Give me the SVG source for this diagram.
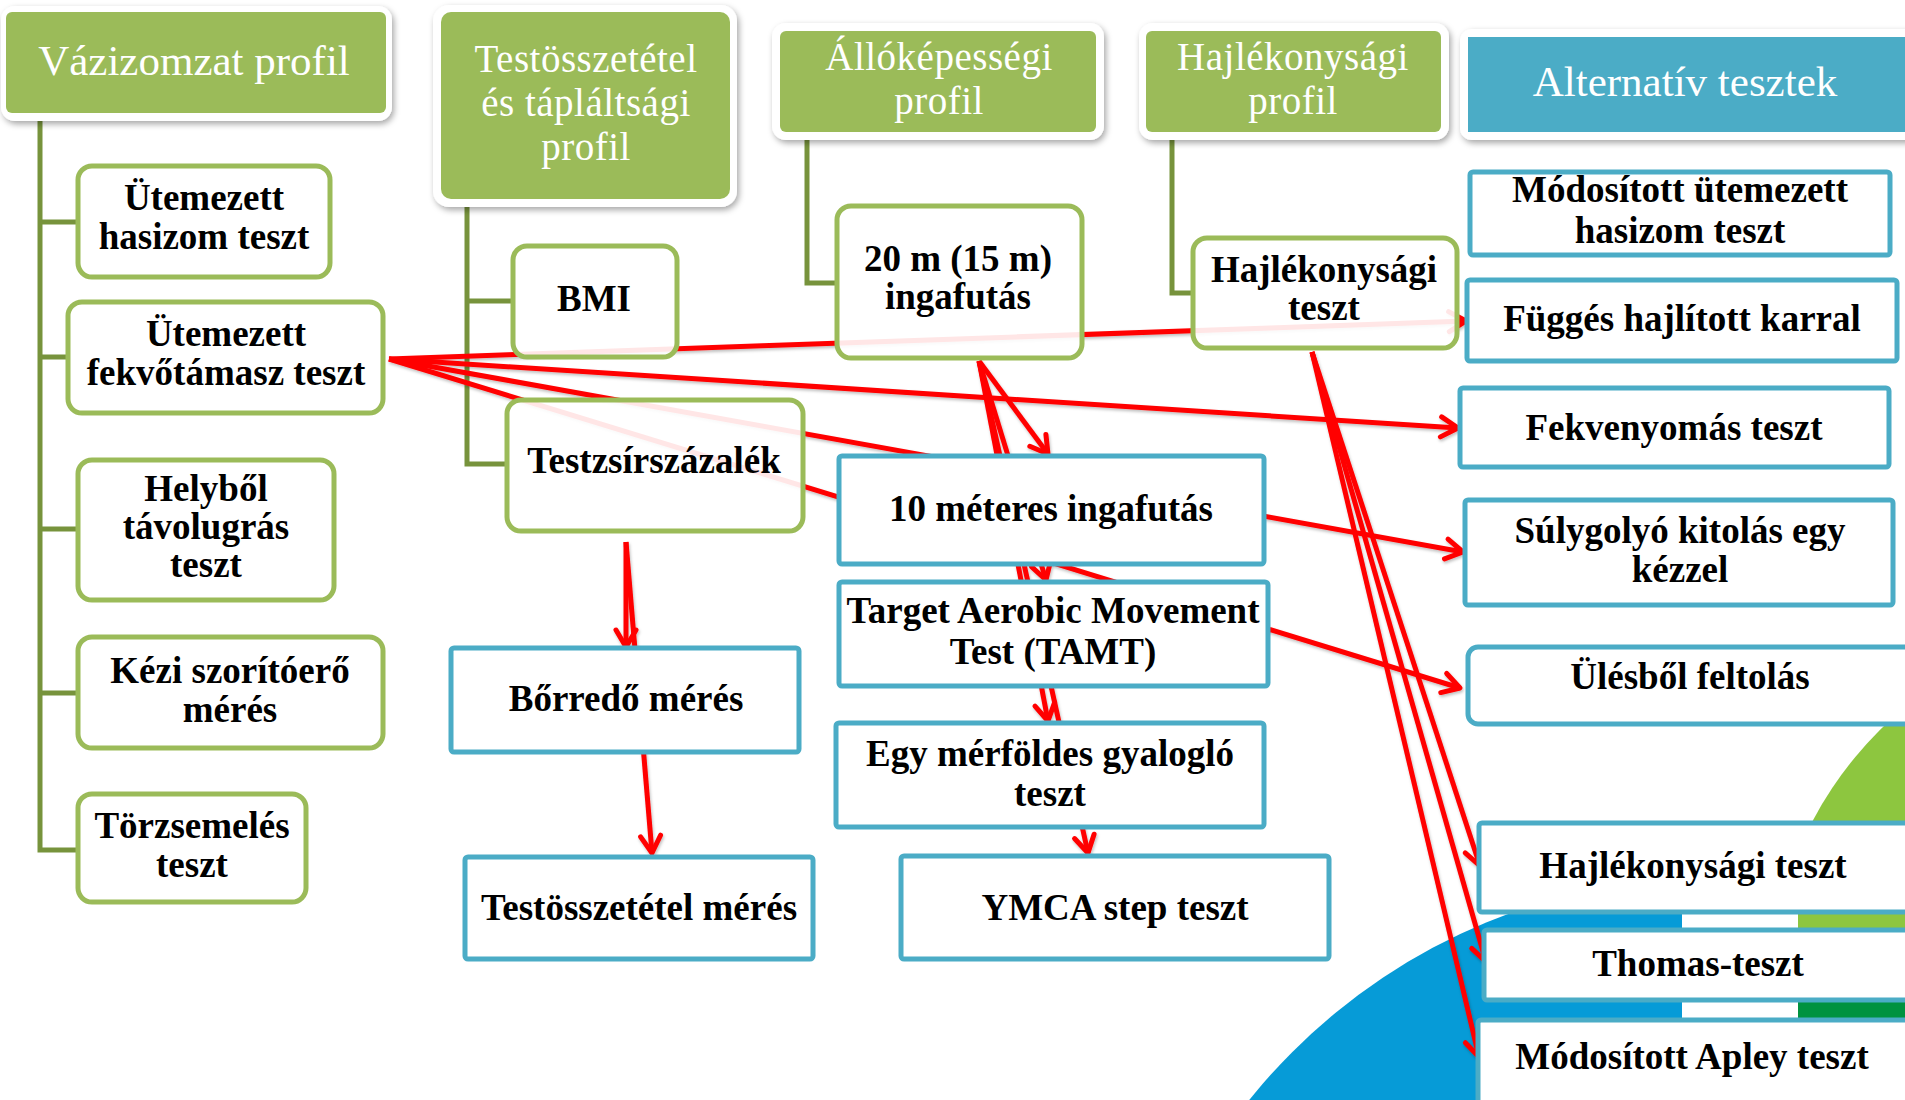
<svg xmlns="http://www.w3.org/2000/svg" width="1905" height="1100" viewBox="0 0 1905 1100">
<defs>
<style>
.hdr{font-family:"Liberation Serif","DejaVu Serif",serif;font-size:39px;fill:#FFFFFF;text-anchor:middle;letter-spacing:0.5px}
.hdr1{font-family:"Liberation Serif","DejaVu Serif",serif;font-size:43px;fill:#FFFFFF;text-anchor:middle}
.txt{font-family:"Liberation Serif","DejaVu Serif",serif;font-size:37px;font-weight:bold;fill:#000000;text-anchor:middle}
.frame{fill:#FFFFFF;filter:url(#sh)}
.ghdr{fill:#9BBB59}
.bhdr{fill:#4BACC6}
.gbox{fill:#FFFFFF;fill-opacity:0.9;stroke:#9BBB59;stroke-width:5}
.bbox{fill:#FFFFFF;stroke:#4BACC6;stroke-width:5}
.tree{fill:none;stroke:#77933C;stroke-width:5}
.red{fill:none;stroke:#FF0000;stroke-width:5;marker-end:url(#arr)}
</style>
<filter id="sh" x="-10%" y="-10%" width="120%" height="130%">
<feDropShadow dx="2" dy="3" stdDeviation="3" flood-color="#000000" flood-opacity="0.35"/>
</filter>
<filter id="lsh" x="-5%" y="-5%" width="110%" height="110%">
<feDropShadow dx="1" dy="2" stdDeviation="1.5" flood-color="#000000" flood-opacity="0.25"/>
</filter>
<marker id="arr" markerUnits="userSpaceOnUse" markerWidth="32" markerHeight="32" viewBox="0 0 32 32" refX="27" refY="16" orient="auto">
<path d="M10,6 L27,16 L10,26" fill="none" stroke="#FF0000" stroke-width="5" stroke-linecap="round" stroke-linejoin="round"/>
</marker>
<clipPath id="clipBlue"><rect x="0" y="0" width="1682" height="1100"/></clipPath>
<clipPath id="clipGreen"><rect x="1798" y="0" width="200" height="1100"/></clipPath>
</defs>

<rect x="0" y="0" width="1905" height="1100" fill="#FFFFFF"/>

<g id="background">
<circle cx="1715" cy="1475" r="598" fill="#069BD7" clip-path="url(#clipBlue)"/>
<g clip-path="url(#clipGreen)">
<circle cx="2150" cy="1000" r="382" fill="#8DC63F"/>
<rect x="1798" y="995" width="120" height="40" fill="#00923F"/>
</g>
</g>

<g id="connectors">
<g id="tree-lines">
<path class="tree" d="M40,115 V850 H78 M40,222 H78 M40,357 H68 M40,529 H78 M40,693 H78"/>
<path class="tree" d="M467,199 V464 H507 M467,301 H513"/>
<path class="tree" d="M807,132 V283 H837"/>
<path class="tree" d="M1172,132 V293 H1193"/>
</g>
<g id="arrows" filter="url(#lsh)">
<line class="red" x1="389" y1="359" x2="1466" y2="321"/>
<line class="red" x1="389" y1="359" x2="1458" y2="428"/>
<line class="red" x1="389" y1="359" x2="1463" y2="552"/>
<line class="red" x1="389" y1="359" x2="1460" y2="688"/>
<line class="red" x1="979" y1="361" x2="1048" y2="454"/>
<line class="red" x1="979" y1="361" x2="1046" y2="580"/>
<line class="red" x1="979" y1="361" x2="1048" y2="721"/>
<line class="red" x1="979" y1="361" x2="1088" y2="853"/>
<line class="red" x1="1312" y1="352" x2="1480" y2="866"/>
<line class="red" x1="1312" y1="352" x2="1486" y2="962"/>
<line class="red" x1="1312" y1="352" x2="1479" y2="1057"/>
<line class="red" x1="626" y1="542" x2="626" y2="647"/>
<line class="red" x1="626" y1="542" x2="652" y2="853"/>
</g>
</g>

<g id="h-vazizomzat">
<rect class="frame" x="1" y="6" width="391" height="115" rx="14"/>
<rect class="ghdr" x="6" y="12" width="380" height="101" rx="6"/>
<text class="hdr1" x="194" y="75">Vázizomzat profil</text>
</g>
<g id="h-testosszetetel">
<rect class="frame" x="433" y="5" width="304" height="202" rx="16"/>
<rect class="ghdr" x="441" y="12" width="289" height="187" rx="10"/>
<text class="hdr" x="586" y="72">Testösszetétel</text>
<text class="hdr" x="586" y="116">és tápláltsági</text>
<text class="hdr" x="586" y="160">profil</text>
</g>
<g id="h-allokepessegi">
<rect class="frame" x="772" y="23" width="332" height="117" rx="14"/>
<rect class="ghdr" x="780" y="31" width="316" height="101" rx="6"/>
<text class="hdr" x="939" y="70">Állóképességi</text>
<text class="hdr" x="939" y="114">profil</text>
</g>
<g id="h-hajlekonysagi">
<rect class="frame" x="1139" y="23" width="310" height="117" rx="14"/>
<rect class="ghdr" x="1146" y="31" width="295" height="101" rx="6"/>
<text class="hdr" x="1293" y="70">Hajlékonysági</text>
<text class="hdr" x="1293" y="114">profil</text>
</g>
<g id="h-alternativ">
<rect class="frame" x="1460" y="29" width="470" height="111" rx="12"/>
<rect class="bhdr" x="1468" y="37" width="450" height="95"/>
<text class="hdr1" x="1685" y="96">Alternatív tesztek</text>
</g>

<g id="n-hasizom">
<rect class="gbox" x="78" y="166" width="252" height="111" rx="14"/>
<text class="txt" x="204" y="210">Ütemezett</text>
<text class="txt" x="204" y="249">hasizom teszt</text>
</g>
<g id="n-fekvotamasz">
<rect class="gbox" x="68" y="302" width="315" height="111" rx="14"/>
<text class="txt" x="226" y="346">Ütemezett</text>
<text class="txt" x="226" y="385">fekvőtámasz teszt</text>
</g>
<g id="n-helybol">
<rect class="gbox" x="78" y="460" width="256" height="140" rx="14"/>
<text class="txt" x="206" y="501">Helyből</text>
<text class="txt" x="206" y="539">távolugrás</text>
<text class="txt" x="206" y="577">teszt</text>
</g>
<g id="n-kezi">
<rect class="gbox" x="78" y="637" width="305" height="111" rx="14"/>
<text class="txt" x="230" y="683">Kézi szorítóerő</text>
<text class="txt" x="230" y="722">mérés</text>
</g>
<g id="n-torzsemeles">
<rect class="gbox" x="78" y="794" width="228" height="108" rx="14"/>
<text class="txt" x="192" y="838">Törzsemelés</text>
<text class="txt" x="192" y="877">teszt</text>
</g>
<g id="n-bmi">
<rect class="gbox" x="513" y="246" width="164" height="111" rx="14"/>
<text class="txt" x="594" y="311">BMI</text>
</g>
<g id="n-testzsir">
<rect class="gbox" x="507" y="400" width="296" height="131" rx="14"/>
<text class="txt" x="654" y="473">Testzsírszázalék</text>
</g>
<g id="n-20m">
<rect class="gbox" x="837" y="206" width="245" height="152" rx="14"/>
<text class="txt" x="958" y="271">20 m (15 m)</text>
<text class="txt" x="958" y="309">ingafutás</text>
</g>
<g id="n-hajlekonysagi">
<rect class="gbox" x="1193" y="238" width="264" height="110" rx="14"/>
<text class="txt" x="1324" y="282">Hajlékonysági</text>
<text class="txt" x="1324" y="320">teszt</text>
</g>

<g id="n-modositott-hasizom">
<rect class="bbox" x="1470" y="172" width="420" height="83" rx="3"/>
<text class="txt" x="1680" y="202">Módosított ütemezett</text>
<text class="txt" x="1680" y="243">hasizom teszt</text>
</g>
<g id="n-fugges">
<rect class="bbox" x="1467" y="280" width="430" height="81" rx="3"/>
<text class="txt" x="1682" y="331">Függés hajlított karral</text>
</g>
<g id="n-fekvenyomas">
<rect class="bbox" x="1460" y="388" width="429" height="79" rx="3"/>
<text class="txt" x="1674" y="440">Fekvenyomás teszt</text>
</g>
<g id="n-sulygolyo">
<rect class="bbox" x="1465" y="500" width="428" height="105" rx="3"/>
<text class="txt" x="1680" y="543">Súlygolyó kitolás egy</text>
<text class="txt" x="1680" y="582">kézzel</text>
</g>
<g id="n-ulesbol">
<rect class="bbox" x="1468" y="647" width="460" height="77" rx="10"/>
<text class="txt" x="1690" y="689">Ülésből feltolás</text>
</g>
<g id="n-hajl-alt">
<rect class="bbox" x="1479" y="823" width="450" height="89" rx="3"/>
<text class="txt" x="1693" y="878">Hajlékonysági teszt</text>
</g>
<g id="n-thomas">
<rect class="bbox" x="1484" y="930" width="450" height="70" rx="3"/>
<text class="txt" x="1698" y="976">Thomas-teszt</text>
</g>
<g id="n-apley">
<rect class="bbox" x="1478" y="1020" width="450" height="100" rx="3"/>
<text class="txt" x="1692" y="1069">Módosított Apley teszt</text>
</g>

<g id="n-10m">
<rect class="bbox" x="839" y="456" width="425" height="108" rx="3"/>
<text class="txt" x="1051" y="521">10 méteres ingafutás</text>
</g>
<g id="n-tamt">
<rect class="bbox" x="839" y="582" width="429" height="104" rx="3"/>
<text class="txt" x="1053" y="623">Target Aerobic Movement</text>
<text class="txt" x="1053" y="664">Test (TAMT)</text>
</g>
<g id="n-egy">
<rect class="bbox" x="836" y="723" width="428" height="104" rx="3"/>
<text class="txt" x="1050" y="766">Egy mérföldes gyalogló</text>
<text class="txt" x="1050" y="806">teszt</text>
</g>
<g id="n-ymca">
<rect class="bbox" x="901" y="856" width="428" height="103" rx="3"/>
<text class="txt" x="1115" y="920">YMCA step teszt</text>
</g>
<g id="n-borredo">
<rect class="bbox" x="451" y="648" width="348" height="104" rx="3"/>
<text class="txt" x="626" y="711">Bőrredő mérés</text>
</g>
<g id="n-testossz-meres">
<rect class="bbox" x="465" y="857" width="348" height="102" rx="3"/>
<text class="txt" x="639" y="920">Testösszetétel mérés</text>
</g>

<g id="connectors-top" filter="url(#lsh)">
<line class="red" x1="330" y1="224" x2="1470" y2="224"/>
</g>
</svg>
